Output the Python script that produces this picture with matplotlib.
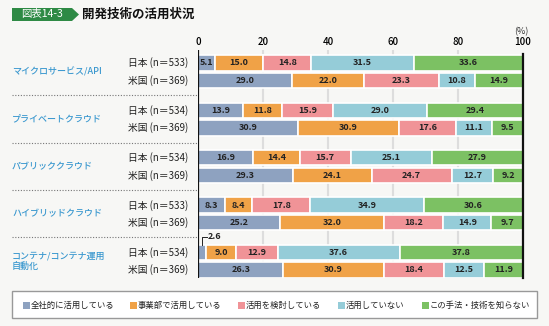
import matplotlib.pyplot as plt
import numpy as np
from matplotlib.patches import Polygon, Rectangle
from matplotlib import transforms

plt.rcParams['font.family'] = ['Noto Sans CJK JP', 'DejaVu Sans']

categories = ["マイクロサービス/API", "プライベートクラウド", "パブリッククラウド",
              "ハイブリッドクラウド", "コンテナ/コンテナ運用\n自動化"]
jp_n = [533, 534, 534, 533, 534]
us_n = [369, 369, 369, 369, 369]
series = ["全社的に活用している", "事業部で活用している", "活用を検討している",
          "活用していない", "この手法・技術を知らない"]
colors = ["#8ea2c0", "#f0a247", "#f09397", "#95ccd8", "#7cc163"]

jp_values = [
    [5.1, 15.0, 14.8, 31.5, 33.6],
    [13.9, 11.8, 15.9, 29.0, 29.4],
    [16.9, 14.4, 15.7, 25.1, 27.9],
    [8.3, 8.4, 17.8, 34.9, 30.6],
    [2.6, 9.0, 12.9, 37.6, 37.8],
]
us_values = [
    [29.0, 22.0, 23.3, 10.8, 14.9],
    [30.9, 30.9, 17.6, 11.1, 9.5],
    [29.3, 24.1, 24.7, 12.7, 9.2],
    [25.2, 32.0, 18.2, 14.9, 9.7],
    [26.3, 30.9, 18.4, 12.5, 11.9],
]

W, H = 549, 326
bg = "#f7f7f5"
fig = plt.figure(figsize=(W / 100, H / 100), dpi=100, facecolor=bg)


def fx(px):
    return px / W


def fy(py):
    return 1 - py / H


ax = fig.add_axes([fx(198), fy(278), fx(523) - fx(198), (278 - 50) / H])
ax.set_facecolor(bg)

gap = 2.7
bar_h = 0.88
ax.set_xlim(0, 100)
ax.set_ylim(4 * gap + 1 + 0.46, -0.74)

for g in [20, 40, 60, 80]:
    ax.axvline(g, color="#dddddd", lw=1.5, zorder=0)

rows = []
for i in range(len(categories)):
    rows.append((i * gap, jp_values[i], "日本 (n＝%d)" % jp_n[i]))
    rows.append((i * gap + 1, us_values[i], "米国 (n＝%d)" % us_n[i]))

lab_tf = transforms.blended_transform_factory(fig.transFigure, ax.transData)

for y, vals, lab in rows:
    left = 0
    for k, v in enumerate(vals):
        ax.barh(y, v, left=left, height=bar_h, color=colors[k],
                edgecolor="white", linewidth=1.2, zorder=2)
        if v >= 4:
            ax.text(left + v / 2, y, "%.1f" % v, ha="center", va="center",
                    fontsize=6.5, fontweight="bold", color="#222222", zorder=3)
        else:
            # small segment: label with a leader line above the bar
            top = y - bar_h / 2
            cx = left + v / 2
            ax.plot([cx, cx, cx + 1.6], [top, top - 0.45, top - 0.45],
                    color="#222222", lw=0.7, clip_on=False, zorder=3)
            ax.text(cx + 1.8, top - 0.45, "%.1f" % v, ha="left", va="center",
                    fontsize=6.5, fontweight="bold", color="#222222")
        left += v
    ax.text(fx(188), y, lab, transform=lab_tf, ha="right", va="center",
            fontsize=7, color="#222222")

for i, cat in enumerate(categories):
    ax.text(fx(12), i * gap + 0.5, cat, transform=lab_tf, ha="left",
            va="center", fontsize=6.5, fontweight="medium", color="#3a98cf",
            linespacing=1.3)
    if i < len(categories) - 1:
        yy = i * gap + 1 + (gap - 1) / 2
        ax.plot([fx(12), fx(198)], [yy, yy], transform=lab_tf, ls=(0, (1, 1.5)),
                color="#777777", lw=0.8, clip_on=False)

ax.axvline(0, color="#111111", lw=1.6, zorder=4)
ax.plot([100, 100], [ax.get_ylim()[0], -0.5], color="#111111", lw=1.6,
        zorder=4, clip_on=False)

for s in ax.spines.values():
    s.set_visible(False)
ax.xaxis.tick_top()
ax.set_xticks([0, 20, 40, 60, 80, 100])
ax.tick_params(axis="x", length=0, pad=2, labelsize=7)
for t in ax.get_xticklabels():
    t.set_fontweight("medium")
ax.set_yticks([])
fig.text(fx(521), fy(31.5), "(%)", ha="center", va="center", fontsize=6.5,
         color="#333333")

# title badge
badge = Polygon([(fx(12), fy(8)), (fx(72), fy(8)), (fx(79), fy(14.5)),
                 (fx(72), fy(21)), (fx(12), fy(21))], closed=True,
                transform=fig.transFigure, facecolor="#2e8a45", edgecolor="none")
fig.patches.append(badge)
fig.text(fx(42), fy(14.5), "図表14-3", ha="center", va="center", fontsize=7.5,
         color="white")
fig.text(fx(82), fy(14.5), "開発技術の活用状況", ha="left", va="center",
         fontsize=9, fontweight="bold", color="#111111")

# legend
frame = Rectangle((fx(12), fy(318)), fx(537) - fx(12), (318 - 291) / H,
                  transform=fig.transFigure, facecolor="white",
                  edgecolor="#999999", lw=1.0)
fig.patches.append(frame)
leg_x = [23, 130, 238, 338, 422]
for k, name in enumerate(series):
    fig.patches.append(Rectangle((fx(leg_x[k]), fy(308.5)), 7 / W, 7 / H,
                                 transform=fig.transFigure,
                                 facecolor=colors[k], edgecolor="none"))
    fig.text(fx(leg_x[k] + 7.5), fy(305), name, ha="left", va="center",
             fontsize=6, color="#222222")

fig.savefig("out.png", dpi=100, facecolor=bg)
